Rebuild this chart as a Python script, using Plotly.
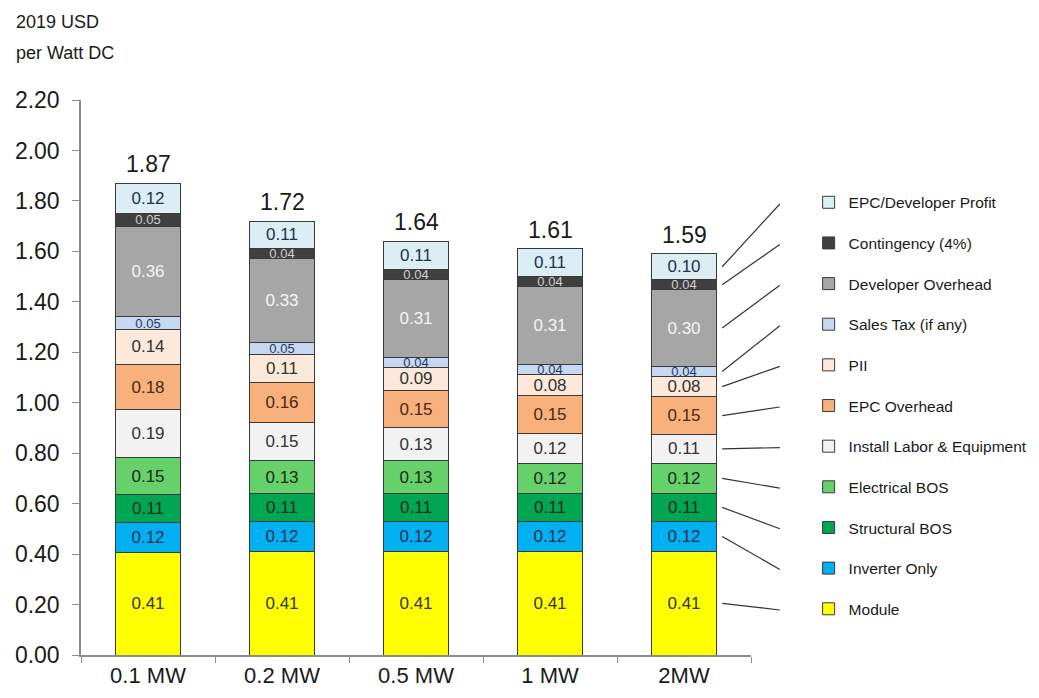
import plotly.graph_objects as go

categories = ["0.1 MW", "0.2 MW", "0.5 MW", "1 MW", "2MW"]

series_names = [
    "Module", "Inverter Only", "Structural BOS", "Electrical BOS",
    "Install Labor & Equipment", "EPC Overhead", "PII", "Sales Tax (if any)",
    "Developer Overhead", "Contingency (4%)", "EPC/Developer Profit",
]

module = [0.406, 0.41, 0.41, 0.41, 0.41]
inverter = [0.12, 0.12, 0.12, 0.12, 0.12]
structural_bos = [0.11, 0.11, 0.11, 0.11, 0.11]
electrical_bos = [0.146, 0.13, 0.13, 0.12, 0.12]
install_labor = [0.19, 0.15, 0.13, 0.12, 0.114]
epc_overhead = [0.18, 0.16, 0.15, 0.15, 0.15]
pii = [0.138, 0.11, 0.09, 0.08, 0.08]
sales_tax = [0.05, 0.05, 0.04, 0.04, 0.04]
developer_overhead = [0.36, 0.33, 0.31, 0.31, 0.304]
contingency = [0.05, 0.04, 0.04, 0.04, 0.04]
epc_profit = [0.12, 0.11, 0.11, 0.11, 0.102]

series_values = [module, inverter, structural_bos, electrical_bos, install_labor,
                 epc_overhead, pii, sales_tax, developer_overhead, contingency, epc_profit]

colors = ["#FFFF00", "#00B0F0", "#00A651", "#66D06A", "#F2F2F2", "#F8B07C",
          "#FDE9D9", "#C6D9F1", "#A6A6A6", "#404040", "#DAEEF3"]
text_colors = ["#333333", "#1F3050", "#1A2A1A", "#1A2A1A", "#333333", "#4A2A10",
               "#333333", "#1F3864", "#F4F4F4", "#D0D0D0", "#1F3050"]
text_sizes = [17, 17, 17, 17, 17, 17, 17, 13, 17, 13, 17]

tick_vals = [0, 0.2, 0.4, 0.6, 0.8, 1.0, 1.2, 1.4, 1.6, 1.8, 2.0, 2.2]

FONT = "Liberation Sans, Arial, sans-serif"

fig = go.Figure()
n = len(series_names)
for i, (name, vals, col, tcol, tsz) in enumerate(zip(series_names, series_values, colors, text_colors, text_sizes)):
    fig.add_trace(go.Bar(
        name=name, x=categories, y=vals,
        marker=dict(color=col, line=dict(color="#3A3A3A", width=1)),
        text=[f"{v:.2f}" for v in vals],
        textposition="inside", insidetextanchor="middle", textangle=0,
        constraintext="none",
        textfont=dict(color=tcol, size=tsz, family=FONT),
        legendgroup=name, legendrank=100 + (n - 1 - i),
        hoverinfo="x+y+name",
    ))

totals = [sum(s[i] for s in series_values) for i in range(len(categories))]
for c, t in zip(categories, totals):
    fig.add_annotation(x=c, y=t, text=f"{t:.2f}", showarrow=False,
                       yanchor="bottom", yshift=4,
                       font=dict(size=23, color="#1A1A1A", family=FONT))

# leader lines from 2MW segments to legend entries
x0p, x1p = 0.957, 1.043
cum = 0
for i, vals in enumerate(series_values):
    mid = cum + vals[-1] / 2
    cum += vals[-1]
    legend_rank = n - 1 - i  # 0 = top legend item
    y_end_px = 204 + 40.6 * legend_rank
    y_end = (655 - y_end_px) / 555
    fig.add_shape(type="line", xref="paper", yref="paper",
                  x0=x0p, x1=x1p, y0=mid / 2.2, y1=y_end,
                  line=dict(color="#333333", width=1.2))

fig.add_annotation(text="2019 USD", xref="paper", yref="paper", x=-0.1, y=1.162,
                   xanchor="left", yanchor="top", showarrow=False,
                   font=dict(size=18, color="#1A1A1A", family=FONT))
fig.add_annotation(text="per Watt DC", xref="paper", yref="paper", x=-0.1, y=1.107,
                   xanchor="left", yanchor="top", showarrow=False,
                   font=dict(size=18, color="#1A1A1A", family=FONT))

fig.update_layout(
    width=1023, height=682,
    barmode="stack", bargap=0.515,
    plot_bgcolor="white", paper_bgcolor="white",
    margin=dict(l=73, r=280, t=92, b=35, autoexpand=False),
    font=dict(family=FONT, color="#1A1A1A"),
    legend=dict(
        x=1.086, xanchor="left", y=0.8456, yanchor="top",
        traceorder="grouped", tracegroupgap=17.5,
        font=dict(size=15.5, color="#1A1A1A", family=FONT),
        itemclick=False, itemdoubleclick=False,
    ),
    showlegend=True,
)
fig.update_xaxes(
    showline=True, linecolor="#8C8C8C", linewidth=1.5,
    ticks="outside", tickson="boundaries", ticklen=6, tickcolor="#8C8C8C",
    tickfont=dict(size=22, color="#1A1A1A"), showgrid=False, automargin=False,
    ticklabelstandoff=0,
)
fig.update_yaxes(
    range=[0, 2.2], tickvals=tick_vals, tickformat=".2f",
    showline=True, linecolor="#8C8C8C", linewidth=1.5,
    ticks="outside", ticklen=7, tickcolor="#8C8C8C",
    tickfont=dict(size=23, color="#1A1A1A"), showgrid=False, zeroline=False,
    automargin=False, ticklabelstandoff=8,
)

fig.write_html("out.html")
